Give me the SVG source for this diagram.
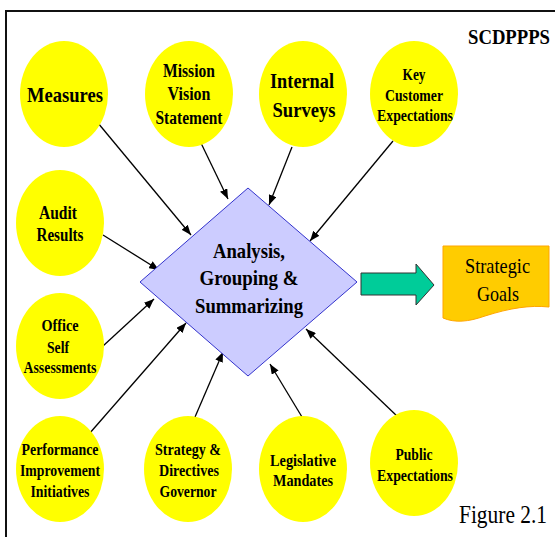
<svg xmlns="http://www.w3.org/2000/svg" width="555" height="537" viewBox="0 0 555 537">
<style>
.node ellipse{fill:#FFFF00;stroke:none}
.t{font-family:"Liberation Serif","Times New Roman",serif;font-weight:bold;text-anchor:middle;fill:#000}
.r{font-family:"Liberation Serif","Times New Roman",serif;font-weight:normal;fill:#000}
.conn line{stroke:#000;stroke-width:1.3;marker-end:url(#ah)}
</style>
<defs>
<marker id="ah" markerUnits="userSpaceOnUse" markerWidth="10" markerHeight="8" refX="10" refY="4" orient="auto">
<path d="M0,0 L10,4 L0,8 Z" fill="#000"/>
</marker>
</defs>
<rect width="555" height="537" fill="#fff"/>
<path d="M6,537 V11 H555" fill="none" stroke="#111" stroke-width="2"/>

<text class="t" x="509" y="44" font-size="22" textLength="82" lengthAdjust="spacingAndGlyphs">SCDPPPS</text>

<g class="conn">
<line x1="98" y1="123" x2="191" y2="235"/>
<line x1="200" y1="141" x2="228" y2="199"/>
<line x1="292" y1="147" x2="269" y2="205"/>
<line x1="393" y1="141" x2="310" y2="241"/>
<line x1="103" y1="235" x2="159" y2="270"/>
<line x1="103" y1="346" x2="154" y2="299"/>
<line x1="89" y1="434" x2="186" y2="323"/>
<line x1="195" y1="417" x2="223" y2="352"/>
<line x1="302" y1="417" x2="270" y2="364"/>
<line x1="398" y1="417" x2="306" y2="329"/>
</g>

<g id="measures" class="node">
<ellipse cx="64" cy="94" rx="44" ry="53"/>
<text class="t" x="65" y="102" font-size="22" textLength="76" lengthAdjust="spacingAndGlyphs">Measures</text>
</g>
<g id="mission" class="node">
<ellipse cx="189" cy="94" rx="44" ry="53"/>
<text class="t" x="189" y="77" font-size="18" textLength="52" lengthAdjust="spacingAndGlyphs">Mission</text>
<text class="t" x="189" y="100" font-size="18" textLength="43" lengthAdjust="spacingAndGlyphs">Vision</text>
<text class="t" x="189" y="124" font-size="18" textLength="67" lengthAdjust="spacingAndGlyphs">Statement</text>
</g>
<g id="internal" class="node">
<ellipse cx="303" cy="94" rx="44" ry="53"/>
<text class="t" x="302" y="88" font-size="22" textLength="64" lengthAdjust="spacingAndGlyphs">Internal</text>
<text class="t" x="304" y="117" font-size="22" textLength="63" lengthAdjust="spacingAndGlyphs">Surveys</text>
</g>
<g id="key" class="node">
<ellipse cx="414" cy="94" rx="44" ry="53"/>
<text class="t" x="414" y="80" font-size="17" textLength="23" lengthAdjust="spacingAndGlyphs">Key</text>
<text class="t" x="414" y="101" font-size="17" textLength="58" lengthAdjust="spacingAndGlyphs">Customer</text>
<text class="t" x="415" y="121" font-size="17" textLength="76" lengthAdjust="spacingAndGlyphs">Expectations</text>
</g>
<g id="audit" class="node">
<ellipse cx="60" cy="223" rx="44" ry="53"/>
<text class="t" x="58" y="219" font-size="18" textLength="38" lengthAdjust="spacingAndGlyphs">Audit</text>
<text class="t" x="60" y="241" font-size="18" textLength="47" lengthAdjust="spacingAndGlyphs">Results</text>
</g>
<g id="office" class="node">
<ellipse cx="60" cy="346" rx="44" ry="53"/>
<text class="t" x="60" y="331" font-size="17" textLength="37" lengthAdjust="spacingAndGlyphs">Office</text>
<text class="t" x="58" y="353" font-size="17" textLength="22" lengthAdjust="spacingAndGlyphs">Self</text>
<text class="t" x="60" y="373" font-size="17" textLength="73" lengthAdjust="spacingAndGlyphs">Assessments</text>
</g>
<g id="performance" class="node">
<ellipse cx="60" cy="469" rx="44" ry="53"/>
<text class="t" x="60" y="455" font-size="17" textLength="77" lengthAdjust="spacingAndGlyphs">Performance</text>
<text class="t" x="60" y="476" font-size="17" textLength="80" lengthAdjust="spacingAndGlyphs">Improvement</text>
<text class="t" x="60" y="497" font-size="17" textLength="59" lengthAdjust="spacingAndGlyphs">Initiatives</text>
</g>
<g id="strategy" class="node">
<ellipse cx="188" cy="469" rx="44" ry="53"/>
<text class="t" x="188" y="455" font-size="17" textLength="66" lengthAdjust="spacingAndGlyphs">Strategy &amp;</text>
<text class="t" x="189" y="476" font-size="17" textLength="60" lengthAdjust="spacingAndGlyphs">Directives</text>
<text class="t" x="188" y="497" font-size="17" textLength="57" lengthAdjust="spacingAndGlyphs">Governor</text>
</g>
<g id="legislative" class="node">
<ellipse cx="303" cy="469" rx="44" ry="53"/>
<text class="t" x="303" y="466" font-size="17" textLength="66" lengthAdjust="spacingAndGlyphs">Legislative</text>
<text class="t" x="303" y="486" font-size="17" textLength="60" lengthAdjust="spacingAndGlyphs">Mandates</text>
</g>
<g id="public" class="node">
<ellipse cx="414" cy="463" rx="44" ry="53"/>
<text class="t" x="414" y="460" font-size="17" textLength="37" lengthAdjust="spacingAndGlyphs">Public</text>
<text class="t" x="415" y="481" font-size="17" textLength="76" lengthAdjust="spacingAndGlyphs">Expectations</text>
</g>

<g id="analysis">
<polygon points="248,188 357,282 248,376 140,282" fill="#CCCCFF" stroke="#3333CC" stroke-width="1"/>
<text class="t" x="249" y="258" font-size="22" textLength="72" lengthAdjust="spacingAndGlyphs">Analysis,</text>
<text class="t" x="249" y="285" font-size="22" textLength="99" lengthAdjust="spacingAndGlyphs">Grouping &amp;</text>
<text class="t" x="249" y="313" font-size="22" textLength="108" lengthAdjust="spacingAndGlyphs">Summarizing</text>
</g>

<g id="bigarrow">
<polygon points="361,273 416,273 416,264 434,285 416,305 416,295 361,295" fill="#00CC99" stroke="#333" stroke-width="1"/>
</g>

<g id="goals">
<path d="M443,246 H549 V307 C530,305 510,308 485,316 C468,322 455,323 443,318 Z" fill="#FFCC00" stroke="#FFA500" stroke-width="1"/>
<text class="r" x="497.5" y="273" font-size="22" text-anchor="middle" textLength="65" lengthAdjust="spacingAndGlyphs">Strategic</text>
<text class="r" x="498" y="301" font-size="22" text-anchor="middle" textLength="42" lengthAdjust="spacingAndGlyphs">Goals</text>
</g>

<text class="r" x="459" y="523" font-size="26" textLength="88" lengthAdjust="spacingAndGlyphs">Figure 2.1</text>
</svg>
